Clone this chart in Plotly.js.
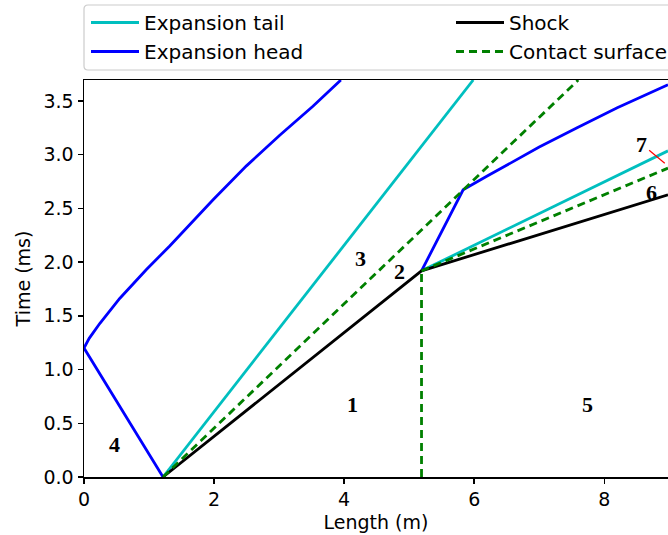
<!DOCTYPE html>
<html>
<head>
<meta charset="utf-8">
<script src="https://cdn.plot.ly/plotly-3.0.1.min.js"></script>
<style>html,body{margin:0;padding:0;background:#fff;}#chart{width:668px;height:535px;}</style>
</head>
<body>
<div id="chart"></div>
<script>
// ---- Data (Length in m, Time in ms) ----
// Expansion head: reflected head segment + curve, then second segment after interaction
var headX = [1.215, 0, 0.08, 0.242, 0.549, 0.96, 1.318, 1.677, 1.985, 2.498, 3.01, 3.52, 3.95, null,
             5.19, 5.83, 6.2, 6.55, 7.0, 7.575, 8.2, 8.98];
var headY = [0, 1.2, 1.29, 1.428, 1.661, 1.93, 2.15, 2.38, 2.58, 2.895, 3.18, 3.45, 3.694, null,
             1.918, 2.672, 2.80, 2.92, 3.07, 3.247, 3.435, 3.65];
// Expansion tail
var tailX = [1.215, 5.985, null, 5.19, 8.98];
var tailY = [0, 3.694, null, 1.918, 3.035];
// Shock
var shockX = [1.215, 5.19, 8.98];
var shockY = [0, 1.918, 2.626];
// Contact surface
var contactX = [1.215, 7.6, null, 5.19, 5.19, null, 5.19, 8.98];
var contactY = [0, 3.694, null, 0, 1.918, null, 1.918, 2.874];
// Small red marker line near region 7
var redX = [8.69, 8.93];
var redY = [3.04, 2.92];
// Region labels
var regionLabels = ['4', '1', '5', '3', '2', '6', '7'];
var regionX = [0.47, 4.13, 7.74, 4.25, 4.85, 8.73, 8.575];
var regionY = [0.30, 0.67, 0.67, 2.03, 1.91, 2.65, 3.09];
var xTicks = [0, 2, 4, 6, 8];
var yTicks = [0.0, 0.5, 1.0, 1.5, 2.0, 2.5, 3.0, 3.5];

var LW = 2.8;
var traces = [
  {x: tailX, y: tailY, name: 'Expansion tail', mode: 'lines', legend: 'legend', line: {color: '#00bfbf', width: LW}},
  {x: headX, y: headY, name: 'Expansion head', mode: 'lines', legend: 'legend', line: {color: '#0000ff', width: LW}},
  {x: shockX, y: shockY, name: 'Shock', mode: 'lines', legend: 'legend2', line: {color: '#000000', width: LW}},
  {x: contactX, y: contactY, name: 'Contact surface', mode: 'lines', legend: 'legend2', line: {color: '#008000', width: LW, dash: '8px,5px'}},
  {x: redX, y: redY, mode: 'lines', showlegend: false, line: {color: '#ff0000', width: 1.2}}
];

var annotations = regionLabels.map(function (t, i) {
  return {x: regionX[i], y: regionY[i], text: '<b>' + t + '</b>', showarrow: false,
    font: {family: 'Liberation Serif, Times New Roman, serif', size: 22, color: '#000'}};
});

var W = 668, H = 535, ML = 84, MR = 0, MT = 80, MB = 58;
var PW = W - ML - MR, PH = H - MT - MB;
function px2x(p) { return (p - ML) / PW; }
function py2y(p) { return 1 + (MT - p) / PH; }

// legend frame (rounded rect) in paper coords
var bx0 = px2x(84), bx1 = px2x(720), by0 = py2y(5), by1 = py2y(70);
var rx = 4 / PW, ry = 4 / PH;
var framePath = 'M' + (bx0 + rx) + ',' + by0 +
  ' L' + (bx1 - rx) + ',' + by0 + ' Q' + bx1 + ',' + by0 + ' ' + bx1 + ',' + (by0 - ry) +
  ' L' + bx1 + ',' + (by1 + ry) + ' Q' + bx1 + ',' + by1 + ' ' + (bx1 - rx) + ',' + by1 +
  ' L' + (bx0 + rx) + ',' + by1 + ' Q' + bx0 + ',' + by1 + ' ' + bx0 + ',' + (by1 + ry) +
  ' L' + bx0 + ',' + (by0 - ry) + ' Q' + bx0 + ',' + by0 + ' ' + (bx0 + rx) + ',' + by0 + ' Z';

var tickFont = {family: 'DejaVu Sans, sans-serif', size: 19, color: '#000'};
var legFont = {family: 'DejaVu Sans, sans-serif', size: 20, color: '#000'};
var layout = {
  width: W, height: H,
  margin: {l: ML, r: MR, t: MT, b: MB, autoexpand: false},
  paper_bgcolor: '#fff', plot_bgcolor: '#fff',
  showlegend: true,
  legend: {
    orientation: 'v', x: px2x(86), xanchor: 'left', y: py2y(3), yanchor: 'top',
    borderwidth: 0, bgcolor: 'rgba(0,0,0,0)', font: legFont, traceorder: 'normal', itemwidth: 48,
    tracegroupgap: 0
  },
  legend2: {
    orientation: 'v', x: px2x(451), xanchor: 'left', y: py2y(3), yanchor: 'top',
    borderwidth: 0, bgcolor: 'rgba(0,0,0,0)', font: legFont, traceorder: 'normal', itemwidth: 48,
    tracegroupgap: 0
  },
  shapes: [
    {type: 'path', xref: 'paper', yref: 'paper', path: framePath,
     line: {color: '#cccccc', width: 1.2}, fillcolor: 'rgba(0,0,0,0)', layer: 'above'}
  ],
  xaxis: {
    range: [0, 8.98], tickvals: xTicks, ticktext: xTicks.map(String),
    showgrid: false, zeroline: false, showline: true, linecolor: '#000', linewidth: 1.5,
    mirror: true, ticks: 'outside', ticklen: 5, tickwidth: 1.5, tickcolor: '#000',
    tickfont: tickFont,
    title: {text: 'Length (m)', font: tickFont, standoff: 6}
  },
  yaxis: {
    range: [0, 3.694], tickvals: yTicks, ticktext: yTicks.map(function (v) { return v.toFixed(1); }),
    showgrid: false, zeroline: false, showline: true, linecolor: '#000', linewidth: 1.5,
    ticks: 'outside', ticklen: 5, tickwidth: 1.5, tickcolor: '#000',
    tickfont: tickFont,
    title: {text: 'Time (ms)', font: tickFont, standoff: 8}
  },
  annotations: annotations
};

Plotly.newPlot('chart', traces, layout, {displayModeBar: false, staticPlot: true});
</script>
</body>
</html>
